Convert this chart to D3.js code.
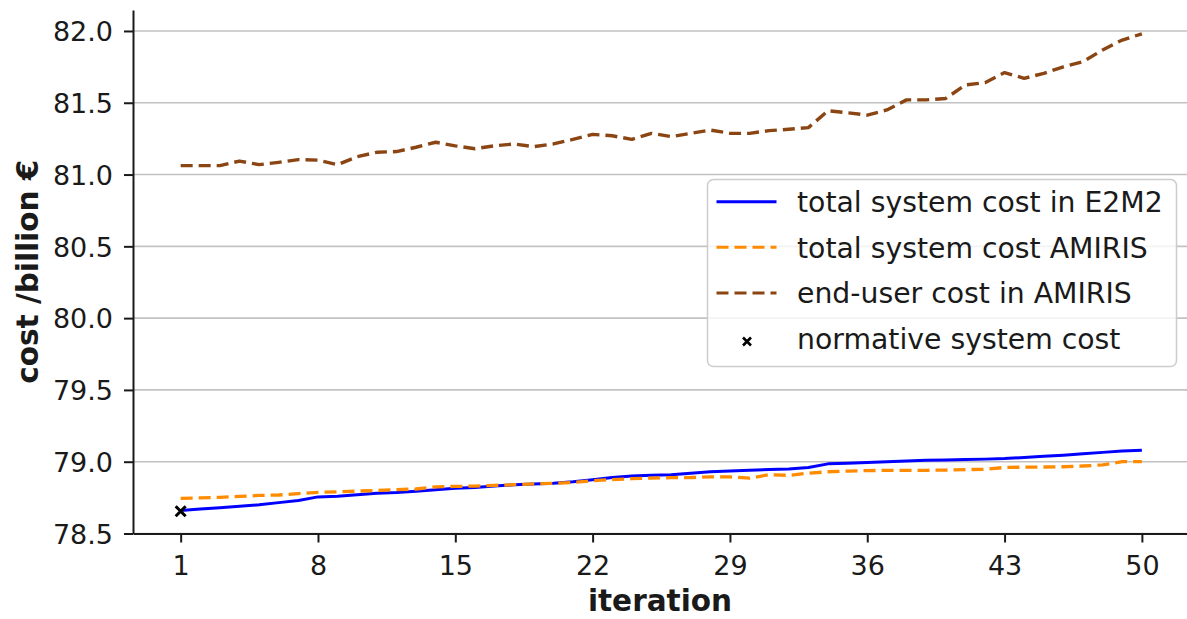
<!DOCTYPE html>
<html>
<head>
<meta charset="utf-8">
<script src="https://cdn.jsdelivr.net/npm/d3@7"></script>
<style>
  html, body { margin: 0; padding: 0; background: #ffffff; }
  svg { display: block; font-family: "DejaVu Sans", sans-serif; }
</style>
</head>
<body>
<svg id="chart" width="1187" height="619"></svg>
<script>
// Iteration numbers on the x axis
const iterations = [
   1,  2,  3,  4,  5,  6,  7,  8,  9, 10,
  11, 12, 13, 14, 15, 16, 17, 18, 19, 20,
  21, 22, 23, 24, 25, 26, 27, 28, 29, 30,
  31, 32, 33, 34, 35, 36, 37, 38, 39, 40,
  41, 42, 43, 44, 45, 46, 47, 48, 49, 50
];

// Total system cost in E2M2 (billion €)
const e2m2Total = [
  78.660, 78.670, 78.680, 78.690, 78.700, 78.715, 78.730, 78.755, 78.760, 78.770,
  78.780, 78.785, 78.795, 78.805, 78.815, 78.820, 78.830, 78.840, 78.845, 78.850,
  78.860, 78.875, 78.890, 78.900, 78.905, 78.910, 78.920, 78.930, 78.935, 78.940,
  78.945, 78.950, 78.960, 78.985, 78.990, 78.995, 79.000, 79.005, 79.010, 79.012,
  79.015, 79.018, 79.022, 79.030, 79.038, 79.045, 79.055, 79.065, 79.075, 79.080
];

// Total system cost in AMIRIS (billion €)
const amirisTotal = [
  78.745, 78.748, 78.752, 78.758, 78.765, 78.768, 78.778, 78.787, 78.790, 78.795,
  78.800, 78.805, 78.810, 78.825, 78.828, 78.830, 78.835, 78.840, 78.845, 78.850,
  78.855, 78.868, 78.875, 78.882, 78.886, 78.889, 78.890, 78.895, 78.894, 78.885,
  78.910, 78.905, 78.920, 78.930, 78.935, 78.938, 78.940, 78.940, 78.940, 78.942,
  78.945, 78.947, 78.960, 78.962, 78.963, 78.965, 78.970, 78.978, 79.000, 79.000
];

// End-user cost in AMIRIS (billion €)
const amirisEndUser = [
  81.062, 81.062, 81.062, 81.094, 81.069, 81.085, 81.104, 81.100, 81.069, 81.125,
  81.155, 81.160, 81.190, 81.225, 81.200, 81.180, 81.200, 81.213, 81.194, 81.213,
  81.245, 81.280, 81.270, 81.245, 81.287, 81.264, 81.287, 81.310, 81.287, 81.287,
  81.306, 81.315, 81.327, 81.444, 81.430, 81.414, 81.450, 81.520, 81.520, 81.530,
  81.624, 81.640, 81.710, 81.670, 81.705, 81.750, 81.786, 81.868, 81.937, 81.980
];

// Normative system cost (single point)
const normativeIteration = [1];
const normativeCost = [78.655];

const xTickValues = [1, 8, 15, 22, 29, 36, 43, 50];
const yTickValues = [78.5, 79.0, 79.5, 80.0, 80.5, 81.0, 81.5, 82.0];

const seriesNames = [
  "total system cost in E2M2",
  "total system cost AMIRIS",
  "end-user cost in AMIRIS",
  "normative system cost"
];
const seriesColors = ["#0000ff", "#ff8c00", "#8b4513", "#000000"];

const xLabel = "iteration";
const yLabel = "cost /billion €";

// ---- layout ----
const plot = { left: 133, right: 1187, top: 10, bottom: 533.5 };
const svg = d3.select("#chart");

const x = d3.scaleLinear().domain([-1.43, 52.3]).range([plot.left, plot.right]);
const y = d3.scaleLinear().domain([78.5, 82.146]).range([plot.bottom, plot.top]);

const axisColor = "#1a1a1a";
const tickFont = 27;

// horizontal grid
svg.append("g")
  .selectAll("line")
  .data(yTickValues)
  .join("line")
  .attr("x1", plot.left).attr("x2", plot.right)
  .attr("y1", d => y(d)).attr("y2", d => y(d))
  .attr("stroke", "#c2c2c2")
  .attr("stroke-width", 1.6);

// series lines
const makeLine = values => d3.line()
  .x((d, i) => x(iterations[i]))
  .y(d => y(d))(values);

const lineSpecs = [
  { values: e2m2Total, color: seriesColors[0], dash: null, width: 3 },
  { values: amirisTotal, color: seriesColors[1], dash: "12,6", width: 3.3 },
  { values: amirisEndUser, color: seriesColors[2], dash: "12,6", width: 3.4 }
];

svg.append("g")
  .selectAll("path")
  .data(lineSpecs)
  .join("path")
  .attr("d", d => makeLine(d.values))
  .attr("fill", "none")
  .attr("stroke", d => d.color)
  .attr("stroke-width", d => d.width)
  .attr("stroke-dasharray", d => d.dash)
  .attr("stroke-linejoin", "round");

// cross marker
const crossPath = s => `M${-s},${-s}L${s},${s}M${-s},${s}L${s},${-s}`;
svg.append("g")
  .selectAll("path")
  .data(normativeCost)
  .join("path")
  .attr("transform", (d, i) => `translate(${x(normativeIteration[i])},${y(d)})`)
  .attr("d", crossPath(5))
  .attr("stroke", seriesColors[3])
  .attr("stroke-width", 3)
  .attr("fill", "none");

// axes
const yAxis = svg.append("g")
  .attr("transform", `translate(${plot.left},0)`)
  .call(d3.axisLeft(y)
    .tickValues(yTickValues)
    .tickFormat(d3.format(".1f"))
    .tickSize(9)
    .tickSizeOuter(0)
    .tickPadding(11));

const xAxis = svg.append("g")
  .attr("transform", `translate(0,${plot.bottom})`)
  .call(d3.axisBottom(x)
    .tickValues(xTickValues)
    .tickFormat(d3.format("d"))
    .tickSize(9)
    .tickSizeOuter(0)
    .tickPadding(13));

[yAxis, xAxis].forEach(g => {
  g.select(".domain").attr("stroke", axisColor).attr("stroke-width", 2);
  g.selectAll(".tick line").attr("stroke", axisColor).attr("stroke-width", 2);
  g.selectAll(".tick text")
    .attr("fill", axisColor)
    .style("font-family", "'DejaVu Sans', sans-serif")
    .style("font-size", tickFont + "px");
});
yAxis.selectAll(".tick text").attr("dy", "0.36em");

// axis titles
svg.append("text")
  .attr("x", (plot.left + plot.right) / 2)
  .attr("y", 611)
  .attr("text-anchor", "middle")
  .attr("font-weight", "bold")
  .attr("font-size", 29.5)
  .attr("fill", axisColor)
  .text(xLabel);

svg.append("text")
  .attr("transform", `translate(38,${(plot.top + plot.bottom) / 2}) rotate(-90)`)
  .attr("text-anchor", "middle")
  .attr("font-weight", "bold")
  .attr("font-size", 29.5)
  .attr("fill", axisColor)
  .text(yLabel);

// legend
const legend = svg.append("g").attr("transform", "translate(707.5,179.5)");
legend.append("rect")
  .attr("width", 469)
  .attr("height", 187)
  .attr("rx", 6)
  .attr("fill", "#ffffff")
  .attr("fill-opacity", 0.8)
  .attr("stroke", "#cccccc")
  .attr("stroke-width", 1.5);

const rowY0 = 22.2, rowStep = 45.6;
const legendRows = legend.selectAll("g.row")
  .data(seriesNames)
  .join("g")
  .attr("class", "row")
  .attr("transform", (d, i) => `translate(0,${rowY0 + i * rowStep})`);

legendRows.each(function(d, i) {
  const g = d3.select(this);
  if (i < 3) {
    g.append("line")
      .attr("x1", 9).attr("x2", 69)
      .attr("y1", 0).attr("y2", 0)
      .attr("stroke", seriesColors[i])
      .attr("stroke-width", 3)
      .attr("stroke-dasharray", lineSpecs[i].dash);
  } else {
    g.append("path")
      .attr("transform", "translate(39.5,3)")
      .attr("d", crossPath(4))
      .attr("stroke", seriesColors[3])
      .attr("stroke-width", 2.6)
      .attr("fill", "none");
  }
  g.append("text")
    .attr("x", 89.5)
    .attr("y", 10.2)
    .attr("font-size", 28.3)
    .attr("fill", axisColor)
    .text(d);
});
</script>
</body>
</html>
